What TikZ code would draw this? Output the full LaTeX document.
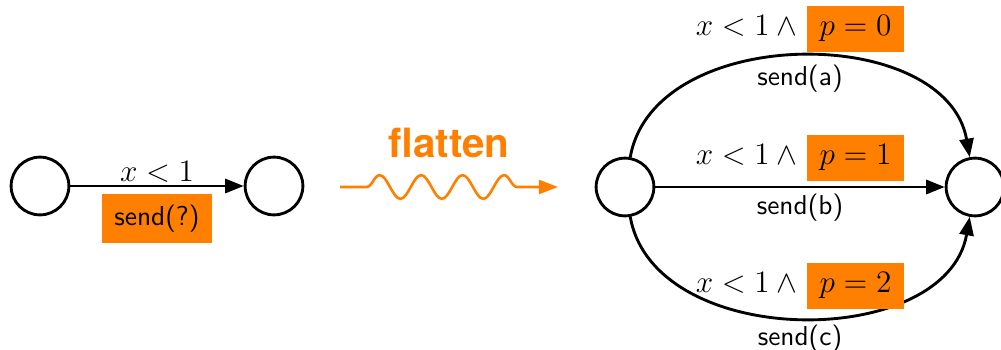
\documentclass[tikz,border=0pt]{standalone}
\usepackage{fontspec}
\usepackage{xcolor}
\usepackage{tikz}
\usetikzlibrary{arrows.meta,decorations.pathmorphing}
\newfontfamily\flatfont{TeX Gyre Heros}
\definecolor{flatorange}{HTML}{FF8000}
\newcommand{\pbox}[1]{{\setlength{\fboxsep}{0pt}\colorbox{flatorange}{\makebox[1.31cm]{\rule[-0.22cm]{0pt}{0.62cm}#1}}}}

\tikzset{
  state/.style={circle,draw,line width=1.1pt,minimum size=0.78cm,inner sep=0pt},
  trans/.style={draw,line width=1.1pt,-{Triangle[length=2.5mm,width=1.9mm]}},
  guard/.style={inner sep=0pt,font=\large},
  actlbl/.style={inner sep=0pt,font=\sffamily\fontsize{10.5}{12}\selectfont},
  actbox/.style={actlbl,fill=flatorange,minimum width=1.485cm,minimum height=0.66cm},
  flattxt/.style={text=flatorange,font=\flatfont\bfseries\fontsize{15.5}{18}\selectfont},
  flatline/.style={draw=flatorange,line width=1pt,decorate,
    decoration={snake,amplitude=0.16cm,segment length=0.56cm,pre length=0.36cm,post length=0.34cm},
    -{Triangle[length=2.6mm,width=1.9mm]}}
}

\begin{document}
\begin{tikzpicture}[x=0.0135cm,y=-0.0135cm]
  \useasboundingbox (0,0) rectangle (1001,349);

  % before
  \node[state] (l0) at (40,186) {};
  \node[state] (l1) at (274,186) {};
  \draw[trans] (l0) -- node[guard,above=1pt] (g0) {$x<1$}
    node[actbox,below=0.09cm] (a0) {send(?)} (l1);

  % flatten
  \node[flattxt] (fl) at (449,143) {flatten};
  \coordinate (sn0) at (340,187);
  \coordinate (sn1) at (558,187);
  \draw[flatline] (sn0) -- (sn1);

  % after
  \node[state] (r0) at (625,187) {};
  \node[state] (r1) at (975,187) {};
  \draw[trans] (r0) to[out=80,in=100,looseness=1.03]
    node[guard,above=0.04cm] (g1) {$x<1\wedge{}$\hspace{1pt}\pbox{$p=0$}}
    node[actlbl,below=0.1cm] (a1) {send(a)} (r1);
  \draw[trans] (r0) --
    node[guard,above=0.06cm] (g2) {$x<1\wedge{}$\hspace{1pt}\pbox{$p=1$}}
    node[actlbl,below=0.07cm] (a2) {send(b)} (r1);
  \draw[trans] (r0) to[out=-80,in=-100,looseness=1.03]
    node[guard,above=0.1cm] (g3) {$x<1\wedge{}$\hspace{1pt}\pbox{$p=2$}}
    node[actlbl,below=0.08cm] (a3) {send(c)} (r1);
\end{tikzpicture}
\end{document}
